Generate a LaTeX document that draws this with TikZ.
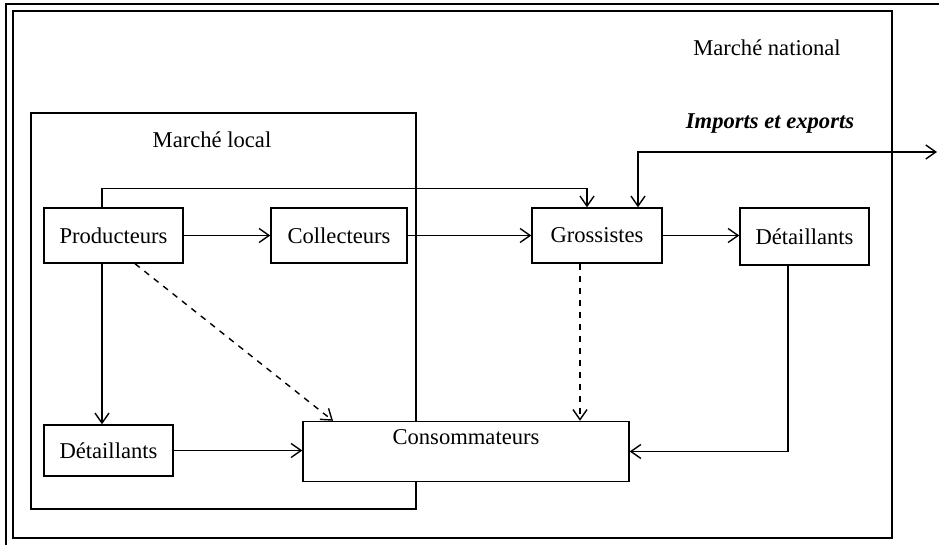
\documentclass[tikz,border=0pt]{standalone}
\usepackage{fontspec}
\setmainfont{Liberation Serif}
\usetikzlibrary{positioning, calc, arrows.meta}

\begin{document}
\begin{tikzpicture}[
        x=0.5pt, y=-0.5pt,
        every node/.style={
            font=\fontsize{11.3}{13}\selectfont,
            inner sep=1pt
        },
        box/.style={draw, fill=white, line width=0.7pt, inner sep=0pt}, % boxes of the chain
        frame/.style={draw, line width=0.75pt},
        >={Straight Barb[length=5pt, width=7pt]},
        flow/.style={->, line width=0.7pt},
        line join=miter
      ]
        \useasboundingbox (0,0) rectangle (939,545);
        % page border and the two markets
        \draw[line width=1pt] (939,4) -- (6,4) -- (6,545);
        \draw[frame] (13,11) rectangle (892,538);
        \draw[frame] (31,113) rectangle (416,509);
        \node (national) at (767,48) {Marché national};
        \node (local) at (212,140) {Marché local};
        \node (impexp) at (770,124) {\bfseries\itshape Imports et exports};

        \node[box, minimum width=69.5pt, minimum height=27.5pt] (prod) at (113.5,235.5) {Producteurs};
        \node[box, minimum width=68pt, minimum height=27.5pt] (coll) at (339,235.5) {Collecteurs};
        \node[box, minimum width=65pt, minimum height=27.5pt] (gros) at (597,235.5) {Grossistes};
        \node[box, minimum width=64.5pt, minimum height=28.5pt] (detR) at (804.5,236.5) {Détaillants};
        \node[box, minimum width=64.5pt, minimum height=25.5pt] (detL) at (108.5,450.5) {Détaillants};
        \node[box, minimum width=163pt, minimum height=30pt, text depth=14pt] (cons) at (466,451.5) {Consommateurs};
        \coordinate (ext) at (937,152);

        \draw[flow] (prod) -- (coll);
        \draw[flow] (coll) -- (gros);
        \draw[flow] (gros.east) -- (gros.east -| detR.west);
        \draw[flow] ([xshift=-5.75pt]prod.north) -- ++(0,-19) -| ([xshift=-5pt]gros.north);
        \draw[flow, <->] (ext) -| ([xshift=20.5pt]gros.north);
        \draw[flow] ([xshift=-5.75pt]prod.south) -- ([xshift=-5.75pt]prod.south |- detL.north);
        \draw[flow, dashed] ([xshift=10.75pt]prod.south) -- ([xshift=-66.5pt]cons.north);
        \draw[flow] (detL.east) -- (detL.east -| cons.west);
        \draw[flow, dashed] ([xshift=-8.5pt]gros.south) -- ([xshift=-8.5pt]gros.south |- cons.north);
        \draw[flow] ([xshift=-8.25pt]detR.south) |- (cons.east);
      \end{tikzpicture}
\end{document}
